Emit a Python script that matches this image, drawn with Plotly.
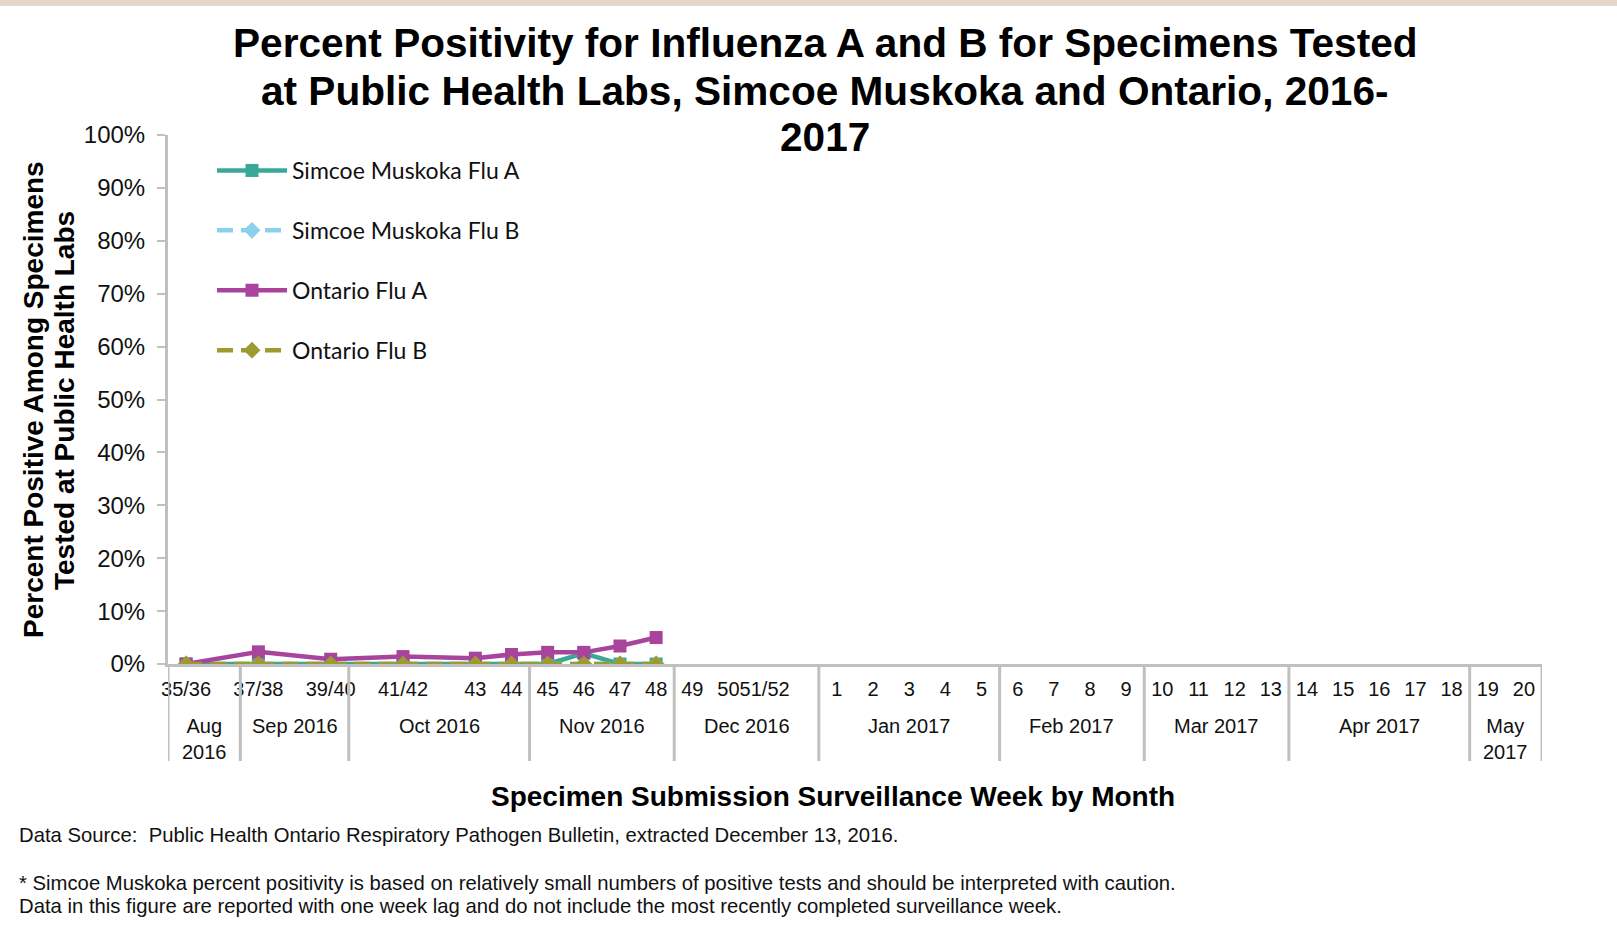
import plotly.graph_objects as go

# ---- data ----
month_labels = ["Aug<br>2016", "Sep 2016", "Oct 2016", "Nov 2016", "Dec 2016",
                "Jan 2017", "Feb 2017", "Mar 2017", "Apr 2017", "May<br>2017"]
month_weeks = [2, 3, 5, 4, 4, 5, 4, 4, 5, 2]   # number of week slots in each month
weeks = ["35/36", "", "37/38", "", "39/40", "", "41/42", "", "43", "44",
         "45", "46", "47", "48", "49", "50", "51/52", "",
         "1", "2", "3", "4", "5", "6", "7", "8", "9", "10", "11", "12", "13",
         "14", "15", "16", "17", "18", "19", "20"]

N = None
simcoe_flu_a = [0.0, N, 0.0, N, 0.0, N, 0.0, N, 0.0, 0.0, 0.0, 2.0, 0.0, 0.0] + [N] * 24
simcoe_flu_b = [0.0, N, 0.0, N, 0.0, N, 0.0, N, 0.0, 0.0, 0.0, 0.0, 0.0, 0.0] + [N] * 24
ontario_flu_a = [0.0, N, 2.3, N, 0.9, N, 1.4, N, 1.1, 1.8, 2.2, 2.2, 3.4, 5.0] + [N] * 24
ontario_flu_b = [0.0, N, 0.0, N, 0.0, N, 0.0, N, 0.0, 0.0, 0.0, 0.0, 0.0, 0.0] + [N] * 24

series = [
    ("Simcoe Muskoka Flu A", simcoe_flu_a, "#3aa896", "solid", "square"),
    ("Simcoe Muskoka Flu B", simcoe_flu_b, "#8dd0ee", "16px,8px", "diamond"),
    ("Ontario Flu A", ontario_flu_a, "#a8449b", "solid", "square"),
    ("Ontario Flu B", ontario_flu_b, "#9c9a30", "16px,8px", "diamond"),
]

W, H = 1617, 945
L, R, T, B = 168, 75, 135, 281
ph = H - T - B
pw = W - L - R


def py(p):  # pixel row -> paper y
    return (H - B - p) / ph


def px(p):  # pixel column -> paper x
    return (p - L) / pw


xs = list(range(len(weeks)))

fig = go.Figure()
for i, (name, vals, col, dash, sym) in enumerate(series):
    fig.add_trace(go.Scatter(
        x=xs, y=vals, name=name, mode="lines+markers",
        connectgaps=True, legendgroup=f"g{i}",
        line=dict(color=col, width=4.5, dash=dash),
        marker=dict(symbol=sym, size=13, color=col),
    ))

axis_gray = "#c0c0c0"
txt_col = "#111111"
fig.update_layout(
    width=W, height=H,
    margin=dict(l=L, r=R, t=T, b=B, autoexpand=False),
    paper_bgcolor="white", plot_bgcolor="white",
    font=dict(family="Liberation Sans, Arial, sans-serif", color="#000000"),
    showlegend=True,
    legend=dict(
        x=px(212), y=py(149), xanchor="left", yanchor="top",
        font=dict(family="Lato, sans-serif", size=23, color=txt_col),
        tracegroupgap=27, bgcolor="rgba(0,0,0,0)", itemwidth=70,
    ),
    xaxis=dict(
        range=[-0.5, len(weeks) - 0.5], tickmode="array", tickvals=xs, ticktext=weeks,
        showline=True, linecolor=axis_gray, linewidth=3, ticks="", showgrid=False,
        zeroline=False, tickangle=0, automargin=False, ticklabelstandoff=5,
        tickfont=dict(size=20, color=txt_col),
    ),
    yaxis=dict(
        range=[0, 100], dtick=10, ticksuffix="%", showline=True, linecolor=axis_gray,
        linewidth=3, ticks="outside", tickcolor=axis_gray, ticklen=8, tickwidth=2,
        showgrid=False, zeroline=False, automargin=False, ticklabelstandoff=7,
        tickfont=dict(size=24, color=txt_col),
    ),
)

# top beige band
fig.add_shape(type="rect", xref="paper", yref="paper",
              x0=px(0), x1=px(W), y0=py(6), y1=py(-2),
              fillcolor="#e3d7ca", line_width=0, layer="below")

# month group dividers and labels (positions from month_weeks)
edge = -0.5
bounds = [edge]
for n in month_weeks:
    edge += n
    bounds.append(edge)
for b in bounds:
    fig.add_shape(type="line", xref="x", yref="paper", x0=b, x1=b, y0=0, y1=py(761),
                  line=dict(color=axis_gray, width=3))
for lab, a, b in zip(month_labels, bounds[:-1], bounds[1:]):
    fig.add_annotation(text=lab, xref="x", yref="paper", x=(a + b) / 2, y=py(713),
                       showarrow=False, xanchor="center", yanchor="top",
                       font=dict(size=20, color=txt_col))

# title lines
title_lines = ["Percent Positivity for Influenza A and B for Specimens Tested",
               "at Public Health Labs, Simcoe Muskoka and Ontario, 2016-",
               "2017"]
for line, yc in zip(title_lines, [43, 91, 137]):
    fig.add_annotation(text=f"<b>{line}</b>", xref="paper", yref="paper",
                       x=px(825), y=py(yc), showarrow=False,
                       xanchor="center", yanchor="middle",
                       font=dict(size=40.6, color="#000000"))

# y-axis title lines
ytitle_lines = ["Percent Positive Among Specimens", "Tested at Public Health Labs"]
for line, xc in zip(ytitle_lines, [33, 64]):
    fig.add_annotation(text=f"<b>{line}</b>", xref="paper", yref="paper",
                       x=px(xc), y=py(400), showarrow=False, textangle=-90,
                       xanchor="center", yanchor="middle",
                       font=dict(size=28, color="#000000"))

# x-axis title and notes
fig.add_annotation(text="<b>Specimen Submission Surveillance Week by Month</b>",
                   xref="paper", yref="paper", x=px(833), y=py(796),
                   showarrow=False, font=dict(size=28, color="#000000"),
                   xanchor="center", yanchor="middle")
notes = [
    ("Data Source:  Public Health Ontario Respiratory Pathogen Bulletin, extracted December 13, 2016.", 835),
    ("* Simcoe Muskoka percent positivity is based on relatively small numbers of positive tests and should be interpreted with caution.", 883),
    ("Data in this figure are reported with one week lag and do not include the most recently completed surveillance week.", 906),
]
for txt, yc in notes:
    fig.add_annotation(text=txt, xref="paper", yref="paper",
                       x=px(17), y=py(yc),
                       showarrow=False, xanchor="left", yanchor="middle",
                       font=dict(size=20.3, color=txt_col))

fig.write_html("out.html", config={"displayModeBar": False},
               post_script="document.body.style.margin='0';")
